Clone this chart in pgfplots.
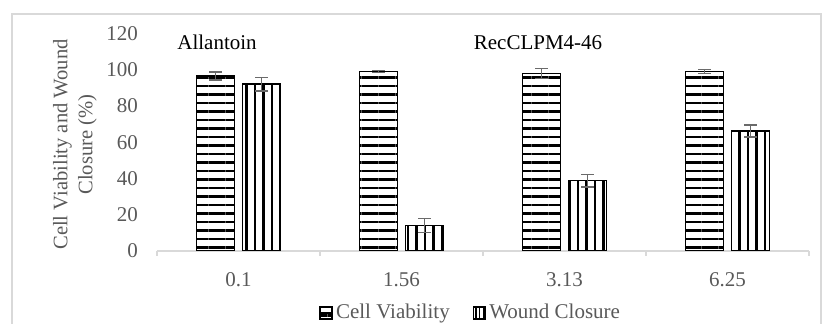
\documentclass[border=0pt]{standalone}
\usepackage{pgfplots}
\pgfplotsset{compat=1.18}
\usepackage{pgfplotstable}
\usepackage{fontspec}
\setmainfont{Liberation Serif}
\usetikzlibrary{patterns.meta}
\definecolor{tickgray}{HTML}{595959}
\definecolor{linegray}{HTML}{D9D9D9}
\definecolor{errgray}{HTML}{6A6A6A}
\pgfplotstableread{
x cv cverr wc wcerr
0 96.5 2.2 92.0 3.8
1 99.0 0.6 14.0 3.8
2 98.0 2.7 38.8 3.5
3 99.0 1.0 66.2 3.3
}\datatable
\begin{document}
\begin{tikzpicture}
\useasboundingbox (0,0) rectangle (411pt,162pt);
\draw[linegray, line width=0.75pt] (6pt,-2pt) rectangle (410.5pt,155pt);
\begin{axis}[
  at={(78.5pt,36.5pt)}, anchor=south west,
  scale only axis, width=326pt, height=108.75pt,
  xmin=-0.5, xmax=3.5, ymin=0, ymax=120,
  enlargelimits=false,
  ybar, bar width=19pt,
  axis x line*=bottom, axis y line*=left,
  x axis line style={linegray, line width=0.75pt},
  y axis line style={draw=none},
  xtick={0,1,2,3}, xticklabels={0.1,1.56,3.13,6.25},
  xtick style={draw=none},
  extra x ticks={-0.5,0.5,1.5,2.5,3.5},
  extra x tick labels={},
  extra x tick style={xtick style={draw=linegray, line width=0.75pt}, major tick length=2.5pt, tick align=outside},
  ytick={0,20,...,120},
  ytick style={draw=none},
  /pgf/number format/assume math mode=true,
  tick label style={font=\fontsize{10.5}{12.6}\selectfont, text=tickgray},
  xticklabel style={yshift=-3pt},
  yticklabel style={xshift=-6pt},
  ylabel={Cell Viability and Wound\\Closure (\%)},
  ylabel style={at={(axis description cs:-0.126,0.49)}, anchor=center, align=center,
    font=\fontsize{10.3}{12.5}\selectfont, text=tickgray},
  legend columns=2,
  legend style={at={(0.482,-0.285)}, anchor=center, draw=none, fill=none,
    font=\fontsize{10.5}{12.6}\selectfont, text=tickgray,
    /tikz/every even column/.append style={column sep=10pt},
    nodes={inner sep=1.5pt}},
  error bars/error bar style={errgray, line width=0.75pt},
  error bars/error mark options={rotate=90, mark size=3.2pt, errgray, line width=0.75pt},
]
\addplot[bar shift=-11.5pt, draw=black, line width=0.8pt, fill=white,
  postaction={pattern={Lines[angle=0,distance=4.25pt,line width=1.05pt]}, pattern color=black},
  error bars/.cd, y dir=both, y explicit,
  /pgfplots/legend image code/.code={
    \draw[black, line width=0.8pt, fill=white] (0pt,-3pt) rectangle (6pt,3pt);
    \draw[black, line width=0.8pt] (0pt,0pt) -- (6pt,0pt);}
  ] table[x=x, y=cv, y error=cverr] {\datatable};
\addlegendentry{Cell Viability}
\addplot[bar shift=11.5pt, draw=black, line width=0.8pt, fill=white,
  postaction={pattern={Lines[angle=90,distance=4.25pt,line width=1.05pt]}, pattern color=black},
  error bars/.cd, y dir=both, y explicit,
  /pgfplots/legend image code/.code={
    \draw[black, line width=0.8pt, fill=white] (0pt,-3pt) rectangle (6pt,3pt);
    \draw[black, line width=0.8pt] (3pt,-3pt) -- (3pt,3pt);}
  ] table[x=x, y=wc, y error=wcerr] {\datatable};
\addlegendentry{Wound Closure}
\end{axis}
\node[font=\fontsize{10.5}{12.6}\selectfont, anchor=base] at (108.5pt,137pt) {Allantoin};
\node[font=\fontsize{10.5}{12.6}\selectfont, anchor=base] at (269pt,137pt) {RecCLPM4-46};
\end{tikzpicture}
\end{document}
